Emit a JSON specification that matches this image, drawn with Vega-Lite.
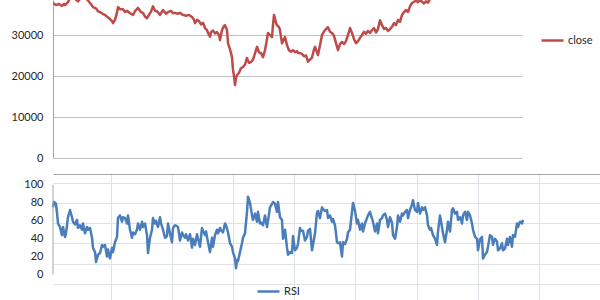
{
  "$schema": "https://vega.github.io/schema/vega-lite/v6.json",
  "padding": {"left": 11, "top": 0, "right": 0, "bottom": 0},
  "background": "white",
  "spacing": 15,
  "bounds": "flush",
  "config": {
    "view": {"stroke": null},
    "axis": {"labelFont": "Lato", "labelFontSize": 11, "labelColor": "#262626"},
    "legend": {"labelFont": "Lato", "labelFontSize": 11, "labelColor": "#262626"}
  },
  "resolve": {"scale": {"color": "independent"}},
  "datasets": {
    "close": [
      {"t":0,"close":37800},{"t":3,"close":37300},{"t":6,"close":37550},{"t":9,"close":37070},{"t":11,"close":37600},{"t":12,"close":37300},
      {"t":15,"close":38000},{"t":17,"close":39000},{"t":20,"close":39500},{"t":23,"close":38600},{"t":25,"close":38200},{"t":27,"close":38800},
      {"t":30,"close":39500},{"t":33,"close":39000},{"t":35,"close":38400},{"t":38,"close":37500},{"t":40,"close":36800},{"t":43,"close":36500},
      {"t":45,"close":35800},{"t":47,"close":35600},{"t":50,"close":35100},{"t":52,"close":34900},{"t":55,"close":34300},{"t":57,"close":33900},
      {"t":59,"close":33400},{"t":60,"close":32900},{"t":62,"close":33700},{"t":64,"close":35500},{"t":65,"close":36800},{"t":67,"close":36300},
      {"t":70,"close":36300},{"t":72,"close":35600},{"t":74,"close":35900},{"t":77,"close":35300},{"t":80,"close":34900},{"t":82,"close":35800},
      {"t":85,"close":36600},{"t":88,"close":35600},{"t":90,"close":35400},{"t":92,"close":34500},{"t":94,"close":34100},{"t":96,"close":34900},
      {"t":98,"close":35700},{"t":100,"close":37000},{"t":102,"close":35900},{"t":104,"close":35800},{"t":107,"close":34900},{"t":110,"close":36100},
      {"t":113,"close":35200},{"t":115,"close":35600},{"t":118,"close":35900},{"t":120,"close":35300},{"t":122,"close":35400},{"t":125,"close":35200},
      {"t":127,"close":35400},{"t":130,"close":34900},{"t":133,"close":34700},{"t":136,"close":34900},{"t":139,"close":34400},{"t":141,"close":33700},
      {"t":142,"close":32900},{"t":144,"close":33700},{"t":146,"close":33400},{"t":148,"close":32600},{"t":150,"close":33000},{"t":152,"close":31700},
      {"t":154,"close":31200},{"t":155,"close":30500},{"t":157,"close":29600},{"t":158,"close":30700},{"t":160,"close":31100},{"t":162,"close":30400},
      {"t":164,"close":30700},{"t":166,"close":30000},{"t":167,"close":28800},{"t":169,"close":31200},{"t":171,"close":32200},{"t":172,"close":32400},
      {"t":174,"close":31200},{"t":175,"close":28000},{"t":177,"close":26500},{"t":179,"close":24600},{"t":180,"close":21500},{"t":181,"close":20000},
      {"t":182,"close":17800},{"t":183,"close":19500},{"t":184,"close":20200},{"t":186,"close":20800},{"t":188,"close":21900},{"t":190,"close":22200},
      {"t":192,"close":22800},{"t":194,"close":24400},{"t":196,"close":23200},{"t":198,"close":23400},{"t":200,"close":24000},{"t":202,"close":25500},
      {"t":204,"close":27100},{"t":206,"close":25800},{"t":208,"close":25600},{"t":210,"close":24600},{"t":212,"close":26300},{"t":214,"close":29000},
      {"t":215,"close":30500},{"t":217,"close":30000},{"t":219,"close":29500},{"t":220,"close":32500},{"t":221,"close":34900},{"t":223,"close":33000},
      {"t":224,"close":32400},{"t":226,"close":31900},{"t":227,"close":31200},{"t":229,"close":28000},{"t":231,"close":29000},{"t":232,"close":29500},
      {"t":234,"close":27500},{"t":236,"close":26300},{"t":238,"close":25900},{"t":240,"close":26300},{"t":242,"close":25800},{"t":244,"close":26100},
      {"t":245,"close":25600},{"t":247,"close":25600},{"t":249,"close":25400},{"t":251,"close":24800},{"t":253,"close":25000},{"t":255,"close":23500},
      {"t":257,"close":24000},{"t":259,"close":24500},{"t":261,"close":26500},{"t":262,"close":27100},{"t":264,"close":25800},{"t":265,"close":25100},
      {"t":267,"close":27500},{"t":269,"close":30000},{"t":271,"close":30800},{"t":272,"close":31200},{"t":274,"close":31700},{"t":275,"close":31900},
      {"t":277,"close":30800},{"t":279,"close":30500},{"t":281,"close":29800},{"t":283,"close":28000},{"t":285,"close":26300},{"t":287,"close":27800},
      {"t":289,"close":28300},{"t":291,"close":27800},{"t":293,"close":28500},{"t":295,"close":30000},{"t":297,"close":31700},{"t":299,"close":30500},
      {"t":301,"close":29000},{"t":303,"close":28000},{"t":305,"close":28500},{"t":307,"close":29300},{"t":309,"close":30000},{"t":311,"close":30800},
      {"t":313,"close":30300},{"t":315,"close":31000},{"t":317,"close":30500},{"t":319,"close":31200},{"t":321,"close":31700},{"t":323,"close":30600},
      {"t":325,"close":31500},{"t":327,"close":33600},{"t":329,"close":32400},{"t":331,"close":31500},{"t":333,"close":31700},{"t":335,"close":31000},
      {"t":337,"close":31400},{"t":339,"close":32000},{"t":341,"close":32900},{"t":343,"close":32400},{"t":345,"close":33700},{"t":347,"close":33200},
      {"t":349,"close":34900},{"t":351,"close":35600},{"t":353,"close":36100},{"t":355,"close":35600},{"t":357,"close":37000},{"t":359,"close":37800},
      {"t":361,"close":38100},{"t":363,"close":38400},{"t":365,"close":38000},{"t":367,"close":38500},{"t":369,"close":38100},{"t":371,"close":37700},
      {"t":373,"close":38200},{"t":375,"close":37900},{"t":377,"close":38800},{"t":380,"close":39500},{"t":385,"close":40200},{"t":390,"close":39800},
      {"t":395,"close":41000},{"t":400,"close":40500},{"t":405,"close":41500},{"t":410,"close":42000},{"t":415,"close":41200},{"t":420,"close":42500},
      {"t":425,"close":43000},{"t":430,"close":42000},{"t":435,"close":43500},{"t":440,"close":44000},{"t":445,"close":43200},{"t":450,"close":44500},
      {"t":455,"close":45000},{"t":460,"close":44000},{"t":465,"close":45500},{"t":469,"close":45000}
    ],
    "rsi": [
      {"t":0,"rsi":75},{"t":1,"rsi":81},{"t":3,"rsi":79},{"t":4,"rsi":69},{"t":5,"rsi":57},{"t":7,"rsi":53},{"t":9,"rsi":44},{"t":10,"rsi":53},
      {"t":12,"rsi":42},{"t":13,"rsi":46},{"t":15,"rsi":64},{"t":17,"rsi":72},{"t":19,"rsi":64},{"t":20,"rsi":59},{"t":22,"rsi":56},{"t":24,"rsi":61},
      {"t":25,"rsi":52},{"t":27,"rsi":55},{"t":29,"rsi":50},{"t":30,"rsi":57},{"t":32,"rsi":46},{"t":34,"rsi":53},{"t":35,"rsi":50},{"t":37,"rsi":52},
      {"t":39,"rsi":41},{"t":40,"rsi":30},{"t":42,"rsi":25},{"t":43,"rsi":14},{"t":45,"rsi":22},{"t":47,"rsi":24},{"t":49,"rsi":33},{"t":50,"rsi":31},
      {"t":52,"rsi":33},{"t":54,"rsi":20},{"t":55,"rsi":28},{"t":57,"rsi":18},{"t":59,"rsi":30},{"t":60,"rsi":25},{"t":62,"rsi":36},{"t":64,"rsi":42},
      {"t":65,"rsi":63},{"t":67,"rsi":66},{"t":69,"rsi":59},{"t":70,"rsi":64},{"t":72,"rsi":63},{"t":74,"rsi":57},{"t":75,"rsi":66},{"t":77,"rsi":50},
      {"t":79,"rsi":41},{"t":80,"rsi":47},{"t":82,"rsi":45},{"t":84,"rsi":50},{"t":85,"rsi":57},{"t":87,"rsi":50},{"t":89,"rsi":59},{"t":90,"rsi":53},
      {"t":92,"rsi":57},{"t":94,"rsi":44},{"t":95,"rsi":24},{"t":97,"rsi":41},{"t":99,"rsi":50},{"t":100,"rsi":63},{"t":102,"rsi":57},{"t":103,"rsi":60},
      {"t":105,"rsi":53},{"t":107,"rsi":64},{"t":108,"rsi":57},{"t":110,"rsi":50},{"t":112,"rsi":41},{"t":114,"rsi":43},{"t":115,"rsi":57},{"t":117,"rsi":46},
      {"t":119,"rsi":36},{"t":120,"rsi":52},{"t":122,"rsi":55},{"t":124,"rsi":54},{"t":125,"rsi":53},{"t":127,"rsi":38},{"t":129,"rsi":47},{"t":130,"rsi":44},
      {"t":132,"rsi":41},{"t":133,"rsi":45},{"t":135,"rsi":38},{"t":137,"rsi":45},{"t":139,"rsi":30},{"t":140,"rsi":40},{"t":142,"rsi":33},{"t":144,"rsi":45},
      {"t":145,"rsi":40},{"t":147,"rsi":31},{"t":149,"rsi":52},{"t":150,"rsi":49},{"t":152,"rsi":44},{"t":153,"rsi":48},{"t":155,"rsi":36},{"t":157,"rsi":25},
      {"t":159,"rsi":41},{"t":160,"rsi":31},{"t":162,"rsi":44},{"t":164,"rsi":50},{"t":165,"rsi":46},{"t":167,"rsi":52},{"t":168,"rsi":49},{"t":170,"rsi":47},
      {"t":172,"rsi":57},{"t":173,"rsi":55},{"t":175,"rsi":47},{"t":177,"rsi":35},{"t":179,"rsi":31},{"t":180,"rsi":25},{"t":182,"rsi":18},{"t":183,"rsi":7},
      {"t":184,"rsi":16},{"t":185,"rsi":15},{"t":187,"rsi":25},{"t":189,"rsi":35},{"t":190,"rsi":41},{"t":192,"rsi":46},{"t":194,"rsi":70},{"t":195,"rsi":87},
      {"t":197,"rsi":80},{"t":199,"rsi":66},{"t":200,"rsi":61},{"t":202,"rsi":68},{"t":204,"rsi":59},{"t":205,"rsi":70},{"t":207,"rsi":57},{"t":208,"rsi":58},
      {"t":210,"rsi":55},{"t":212,"rsi":66},{"t":214,"rsi":53},{"t":215,"rsi":60},{"t":217,"rsi":75},{"t":219,"rsi":79},{"t":220,"rsi":81},{"t":222,"rsi":79},
      {"t":224,"rsi":70},{"t":225,"rsi":81},{"t":227,"rsi":64},{"t":229,"rsi":61},{"t":230,"rsi":40},{"t":232,"rsi":50},{"t":234,"rsi":30},{"t":235,"rsi":22},
      {"t":237,"rsi":25},{"t":239,"rsi":24},{"t":240,"rsi":43},{"t":242,"rsi":27},{"t":244,"rsi":30},{"t":245,"rsi":34},{"t":247,"rsi":52},{"t":248,"rsi":49},
      {"t":250,"rsi":49},{"t":252,"rsi":38},{"t":254,"rsi":42},{"t":255,"rsi":49},{"t":257,"rsi":51},{"t":259,"rsi":27},{"t":260,"rsi":33},{"t":262,"rsi":46},
      {"t":264,"rsi":69},{"t":265,"rsi":71},{"t":267,"rsi":63},{"t":269,"rsi":75},{"t":270,"rsi":73},{"t":272,"rsi":71},{"t":274,"rsi":72},{"t":275,"rsi":63},
      {"t":277,"rsi":66},{"t":279,"rsi":59},{"t":280,"rsi":62},{"t":282,"rsi":55},{"t":284,"rsi":36},{"t":285,"rsi":35},{"t":287,"rsi":36},{"t":289,"rsi":20},
      {"t":290,"rsi":36},{"t":292,"rsi":34},{"t":294,"rsi":40},{"t":295,"rsi":47},{"t":297,"rsi":50},{"t":299,"rsi":70},{"t":300,"rsi":80},{"t":302,"rsi":71},
      {"t":304,"rsi":57},{"t":305,"rsi":61},{"t":307,"rsi":50},{"t":309,"rsi":57},{"t":310,"rsi":48},{"t":312,"rsi":57},{"t":313,"rsi":60},{"t":315,"rsi":66},
      {"t":317,"rsi":70},{"t":318,"rsi":66},{"t":320,"rsi":59},{"t":322,"rsi":48},{"t":324,"rsi":57},{"t":325,"rsi":46},{"t":327,"rsi":61},{"t":329,"rsi":63},
      {"t":330,"rsi":66},{"t":332,"rsi":68},{"t":334,"rsi":61},{"t":335,"rsi":53},{"t":337,"rsi":64},{"t":339,"rsi":58},{"t":340,"rsi":44},{"t":342,"rsi":40},
      {"t":344,"rsi":53},{"t":345,"rsi":66},{"t":347,"rsi":59},{"t":349,"rsi":68},{"t":350,"rsi":66},{"t":352,"rsi":70},{"t":354,"rsi":72},{"t":355,"rsi":63},
      {"t":357,"rsi":72},{"t":359,"rsi":78},{"t":360,"rsi":83},{"t":362,"rsi":72},{"t":364,"rsi":70},{"t":365,"rsi":80},{"t":367,"rsi":68},{"t":369,"rsi":75},
      {"t":370,"rsi":72},{"t":372,"rsi":75},{"t":374,"rsi":66},{"t":375,"rsi":55},{"t":377,"rsi":50},{"t":378,"rsi":52},{"t":380,"rsi":44},{"t":382,"rsi":40},
      {"t":384,"rsi":33},{"t":385,"rsi":48},{"t":387,"rsi":66},{"t":389,"rsi":53},{"t":390,"rsi":46},{"t":392,"rsi":36},{"t":394,"rsi":50},{"t":395,"rsi":59},
      {"t":397,"rsi":48},{"t":399,"rsi":72},{"t":400,"rsi":74},{"t":402,"rsi":68},{"t":404,"rsi":70},{"t":405,"rsi":61},{"t":407,"rsi":64},{"t":409,"rsi":57},
      {"t":410,"rsi":66},{"t":412,"rsi":70},{"t":414,"rsi":61},{"t":415,"rsi":70},{"t":417,"rsi":66},{"t":419,"rsi":57},{"t":420,"rsi":50},{"t":422,"rsi":42},
      {"t":424,"rsi":40},{"t":425,"rsi":27},{"t":427,"rsi":39},{"t":429,"rsi":42},{"t":430,"rsi":18},{"t":432,"rsi":22},{"t":434,"rsi":25},{"t":435,"rsi":31},
      {"t":437,"rsi":44},{"t":439,"rsi":42},{"t":440,"rsi":33},{"t":442,"rsi":40},{"t":444,"rsi":37},{"t":445,"rsi":27},{"t":447,"rsi":29},{"t":449,"rsi":35},
      {"t":450,"rsi":27},{"t":452,"rsi":29},{"t":454,"rsi":40},{"t":455,"rsi":33},{"t":457,"rsi":42},{"t":459,"rsi":31},{"t":460,"rsi":44},{"t":462,"rsi":42},
      {"t":464,"rsi":57},{"t":465,"rsi":53},{"t":467,"rsi":59},{"t":469,"rsi":57},{"t":470,"rsi":61}
    ]
  },
  "vconcat": [
    {
      "width": 469,
      "height": 158,
      "data": {"name": "close"},
      "mark": {"type": "line", "strokeWidth": 2.5, "clip": true, "strokeJoin": "round"},
      "encoding": {
        "x": {"field": "t", "type": "quantitative", "scale": {"domain": [0, 469], "nice": false, "zero": false}, "axis": null},
        "y": {
          "field": "close", "type": "quantitative",
          "scale": {"domain": [0, 38537], "nice": false},
          "axis": {"values": [0, 10000, 20000, 30000], "format": "d", "title": null, "grid": true, "gridColor": "#bfbfbf", "domainColor": "#a6a6a6", "ticks": false, "labelPadding": 10}
        },
        "color": {
          "datum": "close",
          "scale": {"range": ["#be4b48"]},
          "legend": {"title": null, "orient": "none", "legendX": 487, "legendY": 28, "symbolType": "stroke", "symbolSize": 484, "symbolStrokeWidth": 2.5, "labelOffset": 3}
        }
      }
    },
    {
      "width": 547,
      "height": 127,
      "resolve": {"scale": {"y": "independent"}},
      "layer": [
        {
          "data": {"name": "rsi"},
          "mark": {"type": "line", "strokeWidth": 2.5, "strokeJoin": "round"},
          "encoding": {
            "x": {
              "field": "t", "type": "quantitative",
              "scale": {"domain": [0, 547], "nice": false, "zero": false},
              "axis": {"title": null, "labels": false, "ticks": false, "domain": false, "grid": true, "gridColor": "#dde1e8", "values": [58, 118.7, 179.7, 241, 302.3, 363.7, 424.7, 486.3]}
            },
            "y": {
              "field": "rsi", "type": "quantitative",
              "scale": {"domain": [-28.5, 113.4], "nice": false, "zero": false},
              "axis": {"title": null, "values": [0, 20, 40, 60, 80, 100], "grid": false, "domain": false, "ticks": false, "labelPadding": 10}
            },
            "color": {
              "datum": "RSI",
              "scale": {"range": ["#4a7ebb"]},
              "legend": {"title": null, "orient": "none", "legendX": 203, "legendY": 106, "symbolType": "stroke", "symbolSize": 484, "symbolStrokeWidth": 2.5, "labelOffset": 3}
            }
          }
        },
        {
          "data": {"values": [{}]},
          "mark": {"type": "rule", "color": "#a6a6a6", "strokeWidth": 1},
          "encoding": {
            "x": {"datum": 0, "type": "quantitative"},
            "y": {
              "datum": 0, "type": "quantitative",
              "scale": {"domain": [-28.5, 113.4], "nice": false, "zero": false},
              "axis": {
                "orient": "right", "title": null, "labels": false, "ticks": false, "domain": false, "grid": true,
                "gridColor": {"condition": {"test": "datum.value > 110", "value": "#a6a6a6"}, "value": "#dde1e8"},
                "values": [-10.6, 11.7, 35.2, 57.5, 79.9, 102.2, 112.8], "minExtent": 0, "maxExtent": 0
              }
            },
            "y2": {"datum": 100}
          }
        }
      ]
    }
  ]
}
